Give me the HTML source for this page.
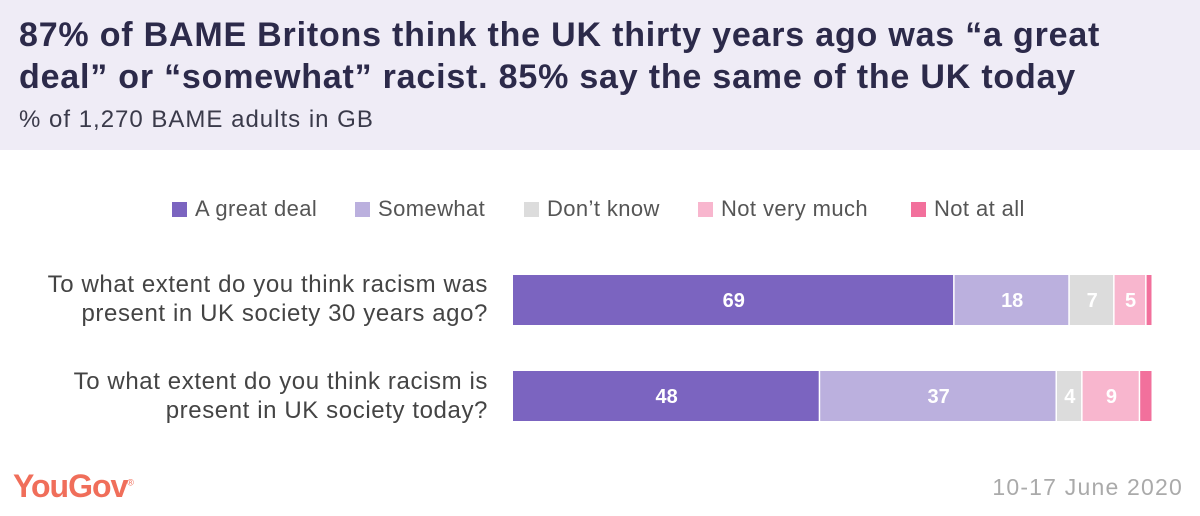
<!DOCTYPE html>
<html><head><meta charset="utf-8"><style>
body{margin:0;width:1200px;height:516px;background:#fff;font-family:"Liberation Sans",sans-serif;position:relative;overflow:hidden}
.hdr{position:absolute;left:0;top:0;width:1200px;height:150px;background:#efecf6}
.t{position:absolute;left:19px;top:14px;font-size:34px;font-weight:bold;color:#2c2a4a;line-height:42px;letter-spacing:0.8px;white-space:nowrap}
.st{position:absolute;left:19px;top:106px;font-size:24px;color:#3a3a4a;letter-spacing:1px}
.lg{position:absolute;top:196px;font-size:22px;color:#555;display:flex;align-items:center;letter-spacing:0.4px}
.lg span{display:inline-block;width:15px;height:15px;margin-right:8px}
.q{position:absolute;right:712px;text-align:right;font-size:24px;color:#444;line-height:29px;letter-spacing:0.6px;white-space:nowrap}
.logo{position:absolute;left:13px;top:468px;font-size:32px;font-weight:bold;color:#f06e5a;letter-spacing:-1px}
.dt{position:absolute;right:17px;top:474px;font-size:23px;color:#aaa;letter-spacing:1.2px}
</style></head><body>
<div class="hdr"></div>
<div class="t">87% of BAME Britons think the UK thirty years ago was “a great<br>deal” or “somewhat” racist. 85% say the same of the UK today</div>
<div class="st">% of 1,270 BAME adults in GB</div>
<div class="lg" style="left:172px"><span style="background:#7b64c0"></span>A great deal</div>
<div class="lg" style="left:355px"><span style="background:#bbb0de"></span>Somewhat</div>
<div class="lg" style="left:524px"><span style="background:#dcdcdc"></span>Don’t know</div>
<div class="lg" style="left:698px"><span style="background:#f8b6ce"></span>Not very much</div>
<div class="lg" style="left:911px"><span style="background:#f2709c"></span>Not at all</div>
<div class="q" style="top:270px">To what extent do you think racism was<br>present in UK society 30 years ago?</div>
<div class="q" style="top:367px">To what extent do you think racism is<br>present in UK society today?</div>
<svg id="c" width="1200" height="516" style="position:absolute;left:0;top:0"></svg>
<div class="logo">YouGov<sup style="font-size:9px;font-weight:normal">®</sup></div>
<div class="dt">10-17 June 2020</div>
<script>
const categories=["30 years ago","today"];
const greatDeal=[69,48];
const somewhat=[18,37];
const dontKnow=[7,4];
const notVeryMuch=[5,9];
const notAtAll=[1,2];
const series=[greatDeal,somewhat,dontKnow,notVeryMuch,notAtAll];
const colors=["#7b64c0","#bbb0de","#dcdcdc","#f8b6ce","#f2709c"];
const names=["great-deal","somewhat","dont-know","not-very-much","not-at-all"];
const x0=513,x1=1153,rowTop=[275,371],bh=50;
const svg=document.getElementById('c');
const ns="http://www.w3.org/2000/svg";
categories.forEach((c,i)=>{
  const tot=series.reduce((a,s)=>a+s[i],0);
  const sx=v=>x0+(x1-x0)*v/tot;
  let acc=0;
  series.forEach((s,k)=>{
    const v=s[i];
    const r=document.createElementNS(ns,'rect');
    r.setAttribute('x',sx(acc));r.setAttribute('y',rowTop[i]);
    r.setAttribute('width',Math.max(0,sx(acc+v)-sx(acc)-1.5));r.setAttribute('height',bh);
    r.setAttribute('fill',colors[k]);
    
    
    svg.appendChild(r);
    if(v>=3){
      const t=document.createElementNS(ns,'text');
      t.setAttribute('x',(sx(acc)+sx(acc+v))/2);t.setAttribute('y',rowTop[i]+bh/2+7);
      t.setAttribute('text-anchor','middle');t.setAttribute('fill','#fff');
      t.setAttribute('font-size','20');t.setAttribute('font-weight','bold');
      t.setAttribute('font-family','Liberation Sans, sans-serif');
      t.textContent=v;
      
      
      svg.appendChild(t);
    }
    acc+=v;
  });
});
</script>
</body></html>
